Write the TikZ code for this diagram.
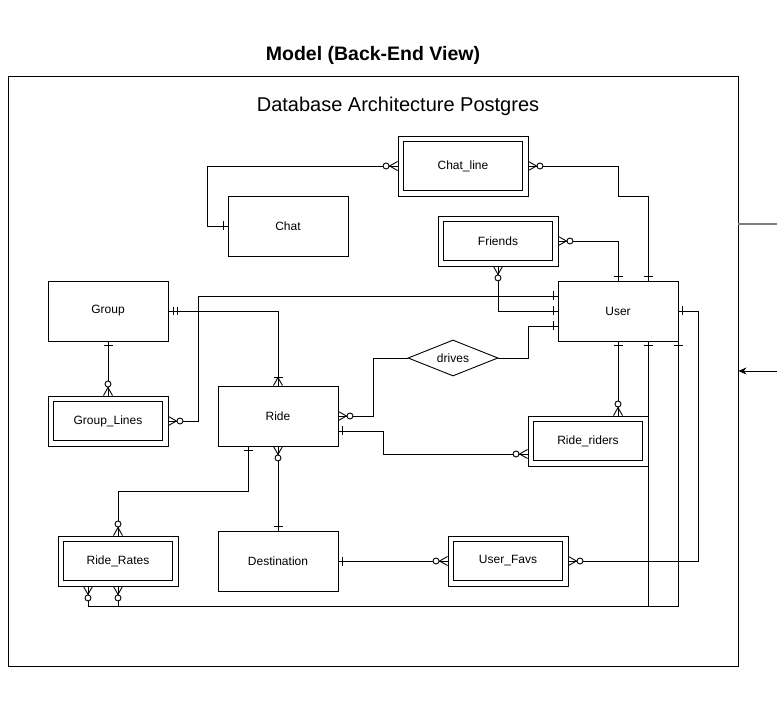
\documentclass[tikz,border=0pt]{standalone}
\usepackage{fontspec}
\setmainfont{Liberation Sans}
\usetikzlibrary{shapes.geometric,arrows.meta,calc}
\tikzset{
  lw/.style={line width=0.9pt},
  ent/.style={draw, lw, minimum width=120pt, minimum height=60pt, inner sep=0pt, font=\fontsize{12}{14}\selectfont},
  weak/.style={draw, lw, inner sep=0pt, minimum width=120pt, minimum height=50pt,
    font=\fontsize{12}{14}\selectfont,
    path picture={\draw[lw] ($(path picture bounding box.north west)+(5.4,5.4)$) rectangle ($(path picture bounding box.south east)+(-5.4,-5.4)$);}},
  conn/.style={lw},
  erone/.pic={\draw[lw] (4,-4.5) -- (4,4.5);},
  ermone/.pic={\draw[lw] (4.5,-4) -- (4.5,4) (8.5,-4) -- (8.5,4);},
  erzm/.pic={\draw[lw] (0,-4.5) -- (8,0) -- (0,4.5); \draw[lw, fill=white] (11.5,0) circle (3);},
  eronemany/.pic={\draw[lw] (0,-4.5) -- (8,0) -- (0,4.5); \draw[lw] (8,-4.5) -- (8,4.5);},
}
\begin{document}
\begin{tikzpicture}[x=1pt,y=-1pt]
\useasboundingbox (0,0) rectangle (777,719);
\node[font=\bfseries\fontsize{19.5}{23}\selectfont] (title) at (373,55.5) {Model (Back-End View)};
\node[draw, lw, minimum width=730pt, minimum height=590pt, inner sep=0pt] (frame) at (373,371) {};
\node[font=\fontsize{20}{24}\selectfont] (sub) at (398,106) {Database Architecture Postgres};

% entities
\node[weak, minimum width=130pt, minimum height=60pt] (Chat_line) at (463,166) {Chat\_line};
\node[ent] (Chat) at (288,226) {Chat};
\node[weak] (Friends) at (498,241) {Friends};
\node[ent] (User) at (618,311) {User};
\node[ent] (Group) at (108,311) {Group};
\node[weak] (Group_Lines) at (108,421) {Group\_Lines};
\node[ent] (Ride) at (278,416) {Ride};
\node[draw, lw, diamond, aspect=2.5, inner sep=0pt, minimum width=90pt, minimum height=36pt,
  font=\fontsize{12}{14}\selectfont] (drives) at (453,358) {drives};
\node[weak] (Ride_riders) at (588,441) {Ride\_riders};
\node[weak] (Ride_Rates) at (118,561) {Ride\_Rates};
\node[ent] (Destination) at (278,561) {Destination};
\node[weak] (User_Favs) at (508,561) {User\_Favs};

% off-picture connectors
\coordinate (offA) at (777,224);
\coordinate (offB) at (777,371);
\draw[line width=1.2pt, color={rgb,255:red,128;green,128;blue,128}] (offA) -- (frame.east |- offA);
\draw[lw, -{Stealth[length=8pt,width=7pt]}] (offB) -- (frame.east);

% connectors
\draw[conn] (Chat_line.west) -- ++(-190,0) |- (Chat.west);
\draw[conn] (Chat_line.east) -- ++(90,0) -- ++(0,30) -| ($(User.north)+(30,0)$);
\draw[conn] (Friends.east) -| (User.north);
\draw[conn] (Friends.south) |- (User.west);
\draw[conn] (Group.east) -| (Ride.north);
\draw[conn] (Group_Lines.east) -- ++(30,0) |- ($(User.west)+(0,-15)$);
\draw[conn] (Group.south) -- (Group_Lines.north);
\draw[conn] (Ride.east) -- ++(35,0) |- (drives.west);
\draw[conn] (drives.east) -- ++(30,0) |- ($(User.west)+(0,15)$);
\draw[conn] ($(Ride.east)+(0,15)$) -- ++(45,0) |- ($(Ride_riders.west)+(0,13)$);
\draw[conn] (User.south) -- ($(Ride_riders.north)+(30,0)$);
\draw[conn] ($(Ride.south)+(-30,0)$) -- ++(0,45) -| (Ride_Rates.north);
\draw[conn] (Ride.south) -- (Destination.north);
\draw[conn] (Destination.east) -- (User_Favs.west);
\draw[conn] (User_Favs.east) -- ++(130,0) |- (User.east);
\draw[conn] ($(Ride_Rates.south)+(-30,0)$) -- ++(0,20) -| ($(User.south)+(30,0)$);
\draw[conn] (Ride_Rates.south) -- ++(0,20) -| (User.south east);

% markers
\pic[rotate=180] at (Chat_line.west) {erzm};
\pic[rotate=180] at (Chat.west) {erone};
\pic at (Chat_line.east) {erzm};
\pic[rotate=90] at ($(User.north)+(30,0)$) {erone};
\pic at (Friends.east) {erzm};
\pic[rotate=90] at (User.north) {erone};
\pic[rotate=-90] at (Friends.south) {erzm};
\pic[rotate=180] at (User.west) {erone};
\pic at (Group.east) {ermone};
\pic[rotate=90] at (Ride.north) {eronemany};
\pic at (Group_Lines.east) {erzm};
\pic[rotate=180] at ($(User.west)+(0,-15)$) {erone};
\pic[rotate=-90] at (Group.south) {erone};
\pic[rotate=90] at (Group_Lines.north) {erzm};
\pic at (Ride.east) {erzm};
\pic[rotate=180] at ($(User.west)+(0,15)$) {erone};
\pic at ($(Ride.east)+(0,15)$) {erone};
\pic[rotate=180] at ($(Ride_riders.west)+(0,13)$) {erzm};
\pic[rotate=-90] at (User.south) {erone};
\pic[rotate=90] at ($(Ride_riders.north)+(30,0)$) {erzm};
\pic[rotate=-90] at ($(Ride.south)+(-30,0)$) {erone};
\pic[rotate=90] at (Ride_Rates.north) {erzm};
\pic[rotate=-90] at (Ride.south) {erzm};
\pic[rotate=90] at (Destination.north) {erone};
\pic at (Destination.east) {erone};
\pic[rotate=180] at (User_Favs.west) {erzm};
\pic at (User_Favs.east) {erzm};
\pic at (User.east) {erone};
\pic[rotate=-90] at ($(Ride_Rates.south)+(-30,0)$) {erzm};
\pic[rotate=-90] at ($(User.south)+(30,0)$) {erone};
\pic[rotate=-90] at (Ride_Rates.south) {erzm};
\pic[rotate=-90] at (User.south east) {erone};
\end{tikzpicture}
\end{document}
